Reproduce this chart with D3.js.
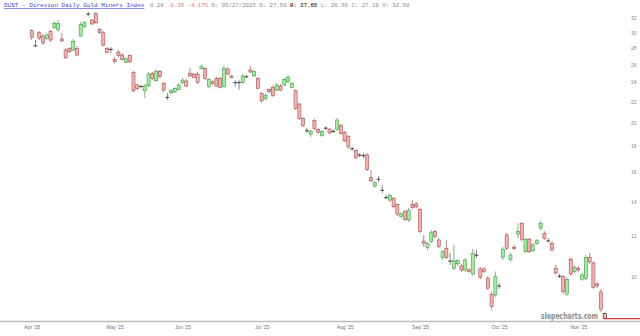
<!DOCTYPE html>
<html>
<head>
<meta charset="utf-8">
<script src="https://cdn.jsdelivr.net/npm/d3@7"></script>
<style>
body { margin: 0; background: #fff; }
svg { display: block; }
</style>
</head>
<body>
<script>
// DUST daily candles, Apr - Nov 2025
let opens = [30.27,28.30,29.99,29.56,29.25,30.18,30.74,30.45,29.16,27.75,27.96,27.75,27.96,29.56,30.83,32.65,31.76,32.73,30.45,29.99,
  27.96,27.85,26.61,27.50,27.13,26.25,27.05,25.10,23.71,23.56,23.10,23.63,24.99,24.17,25.17,23.89,22.44,22.89,22.99,23.24,
  23.96,24.13,24.99,24.91,24.91,25.55,25.55,23.53,24.05,24.40,24.43,23.53,25.47,24.69,23.97,23.98,23.96,24.62,25.36,24.69,
  24.43,22.83,22.28,23.24,23.46,23.17,23.60,23.71,24.05,23.46,23.10,21.76,20.40,19.31,19.01,20.20,19.41,18.89,19.54,19.44,
  19.25,19.41,19.78,19.14,18.79,17.81,17.66,17.31,17.27,17.30,15.61,15.05,15.53,14.78,14.30,14.12,14.23,13.85,13.11,13.41,
  12.91,13.85,13.88,13.54,11.74,11.42,11.71,12.25,11.80,10.92,11.37,10.75,10.39,10.60,10.50,10.31,10.31,10.13,11.04,10.36,
  10.36,9.93,9.23,9.21,9.61,10.92,12.07,10.82,11.42,12.12,12.72,11.19,11.84,11.24,11.62,12.45,12.15,11.77,11.62,10.39,
  10.04,10.00,9.25,10.81,10.23,10.39,9.89,9.93,10.90,10.64,9.68,9.34,8.48];
let highs = [30.50,29.03,30.23,29.82,29.95,30.36,31.60,31.76,29.99,28.00,28.13,29.16,28.25,31.48,31.62,32.97,31.90,32.90,30.63,30.23,
  28.13,28.13,26.90,27.75,27.38,26.88,27.25,25.25,23.82,23.75,23.82,25.14,25.14,25.47,25.36,24.03,22.86,23.28,23.49,23.92,
  24.46,24.35,25.55,25.02,25.14,26.00,25.70,24.46,24.24,24.58,24.60,25.81,25.70,24.80,24.24,24.24,24.91,24.80,25.81,25.36,
  24.58,22.96,22.77,23.35,23.71,23.92,23.82,24.46,24.80,24.03,23.24,21.86,20.50,19.53,19.35,20.34,19.53,19.35,19.71,19.53,
  19.44,20.43,19.89,19.27,18.93,17.94,17.77,17.45,17.45,17.45,16.16,15.38,15.74,15.11,14.45,14.51,14.32,13.91,13.38,13.50,
  13.62,14.12,14.00,13.62,12.07,11.69,12.34,12.34,11.90,11.28,11.80,11.13,11.54,10.83,10.59,10.88,10.40,11.33,11.28,10.45,
  10.45,10.04,9.34,10.24,9.73,11.44,12.18,11.13,11.54,12.74,12.80,11.90,11.90,11.65,11.85,12.86,12.28,11.90,11.74,10.55,
  10.13,10.08,9.98,10.92,10.55,10.50,10.17,11.03,11.13,10.72,9.77,9.46,8.52];
let lows = [29.03,28.13,29.03,28.38,29.03,28.77,30.50,30.09,28.77,26.65,27.38,27.63,27.00,29.43,30.63,32.34,31.06,31.20,29.82,28.25,
  27.38,27.34,26.12,26.88,26.47,26.17,26.17,22.96,23.17,23.35,22.35,23.49,24.24,24.03,24.43,22.96,22.15,22.77,22.86,23.17,
  23.82,23.49,24.58,24.43,23.82,25.40,24.24,23.35,23.71,23.49,23.35,23.35,24.80,24.43,23.53,23.24,23.82,24.46,25.02,24.58,
  23.28,21.86,22.15,22.86,22.46,23.06,23.06,23.60,23.92,23.35,21.18,20.25,19.62,19.10,18.76,19.35,19.01,18.76,19.35,19.01,
  19.10,19.27,18.93,18.33,17.77,17.61,16.98,17.14,17.06,16.08,15.31,14.91,15.31,14.57,14.18,14.00,13.64,13.15,13.00,12.85,
  12.80,13.56,13.60,12.16,11.44,11.28,11.63,11.90,11.38,10.78,10.83,10.55,10.31,10.50,10.22,10.22,10.17,10.04,10.88,9.89,
  10.17,9.42,8.61,9.13,9.47,10.78,11.28,10.69,11.28,11.90,11.74,11.13,11.13,11.19,11.54,12.34,11.80,11.65,11.19,10.10,
  9.94,9.25,9.17,10.04,10.17,10.22,9.81,9.85,10.59,9.47,9.51,8.53,8.25];
let closes = [29.39,28.28,29.29,28.64,29.69,29.03,31.29,31.29,28.90,26.80,27.54,28.81,27.13,31.15,31.38,32.62,31.20,31.38,30.05,28.34,
  27.46,27.83,26.32,27.10,26.61,26.68,26.32,23.10,23.35,23.54,23.60,24.91,24.43,25.17,24.61,23.17,22.42,23.10,23.35,23.71,
  24.24,23.60,24.69,24.54,24.00,25.74,24.43,24.32,23.89,23.60,23.46,25.55,24.91,24.54,23.95,23.96,24.69,24.60,25.14,25.17,
  23.35,22.08,22.63,23.03,22.63,23.71,23.17,24.32,24.54,23.89,21.34,20.40,19.77,19.29,19.27,19.50,19.18,19.22,19.52,19.10,
  19.23,20.25,19.07,18.44,17.94,17.79,17.12,17.29,17.25,16.20,15.40,15.27,15.51,14.76,14.28,14.43,13.70,13.26,13.27,12.95,
  13.50,13.66,13.70,12.25,11.61,11.63,12.19,11.98,11.45,11.19,10.90,10.73,10.74,10.75,10.31,10.78,10.23,11.11,11.02,9.98,
  10.23,9.50,8.74,10.00,9.59,11.32,11.37,11.03,11.36,12.25,11.84,11.84,11.19,11.54,11.76,12.72,11.89,11.75,11.28,10.17,
  10.02,9.35,9.88,10.13,10.44,10.31,10.08,10.90,10.69,9.54,9.60,8.64,8.28];

let monthLabels = ["Apr '25", "May '25", "Jun '25", "Jul '25", "Aug '25", "Sep '25", "Oct '25", "Nov '25"];
let monthIdx = [0, 22, 40, 61, 83, 103, 124, 145];
let priceTicks = [10, 12, 14, 16, 18, 20, 22, 24, 26, 28, 30, 32];

let title = "DUST - Direxion Daily Gold Miners Index";
let quoteParts = [
  {t: "8.28", c: "#8a8a8a", b: false},
  {t: "-0.36", c: "#f07070", b: false},
  {t: "-4.17%", c: "#f07070", b: false},
  {t: "D: 05/27/2025", c: "#8a8a8a", b: false},
  {t: "O: 27.58", c: "#8a8a8a", b: false},
  {t: "H: 27.65", c: "#444", b: true},
  {t: "L: 26.66", c: "#8a8a8a", b: false},
  {t: "C: 27.19", c: "#8a8a8a", b: false},
  {t: "V: 32.60", c: "#8a8a8a", b: false}
];

let width = 640;
let height = 336;

let red_fill = "#f3b2b2";
let red_line = "#a05252";
let green_fill = "#a2eca2";
let green_line = "#48984a";
let doji_color = "#222";

let svg = d3.select("body")
            .append("svg")
            .attr("width", width)
            .attr("height", height)
            .style("font-family", "'Liberation Sans', sans-serif");

svg.append("rect").attr("width", width).attr("height", height).attr("fill", "#fff");

let candles = opens.map((o, i) => ({i: i, o: o, h: highs[i], l: lows[i], c: closes[i]}));

let x = d3.scaleLinear().domain([0, candles.length - 1]).range([31.7, 604.7]);
let y = d3.scaleLog().domain([8, 34]).range([326.3, 4.9]);

svg.append("clipPath").attr("id", "plotclip")
   .append("rect").attr("x", 0).attr("y", 0).attr("width", width).attr("height", 320);

let plot = svg.append("g").attr("clip-path", "url(#plotclip)");

let bodyW = 3.1;

let g = plot.selectAll("g.candle")
            .data(candles)
            .enter()
            .append("g")
            .attr("class", "candle");

let isDoji = d => Math.abs(d.o - d.c) / d.o < 0.004;
let lineColor = d => isDoji(d) ? "#555" : (d.c >= d.o ? green_line : red_line);

g.append("line")
 .attr("x1", d => x(d.i)).attr("x2", d => x(d.i))
 .attr("y1", d => y(d.h)).attr("y2", d => y(d.l))
 .attr("stroke", lineColor)
 .attr("stroke-width", 0.7);

g.filter(d => !isDoji(d))
 .append("rect")
 .attr("x", d => x(d.i) - bodyW / 2)
 .attr("y", d => y(Math.max(d.o, d.c)))
 .attr("width", bodyW)
 .attr("height", d => Math.max(0.8, y(Math.min(d.o, d.c)) - y(Math.max(d.o, d.c))))
 .attr("fill", d => d.c >= d.o ? green_fill : red_fill)
 .attr("stroke", d => d.i === candles.length - 1 ? "#222" : lineColor(d))
 .attr("stroke-width", 0.6);

g.filter(d => isDoji(d))
 .append("line")
 .attr("x1", d => x(d.i) - bodyW / 2 - 0.3).attr("x2", d => x(d.i) + bodyW / 2 + 0.3)
 .attr("y1", d => y(d.c)).attr("y2", d => y(d.c))
 .attr("stroke", doji_color)
 .attr("stroke-width", 0.9);

// last price line
let last = candles[candles.length - 1];
svg.append("line")
   .attr("x1", x(last.i)).attr("x2", width)
   .attr("y1", y(last.c)).attr("y2", y(last.c))
   .attr("stroke", "#e03030")
   .attr("stroke-width", 1.2);

// price axis on the right
let yAxis = svg.append("g")
               .attr("transform", "translate(630,0)")
               .call(d3.axisRight(y).tickValues(priceTicks).tickSize(0).tickPadding(1).tickFormat(d3.format("d")));
yAxis.select(".domain").remove();
yAxis.selectAll("text").attr("font-size", 5).attr("fill", "#888").attr("font-family", "'Liberation Sans', sans-serif");

// bottom axis
svg.append("line")
   .attr("x1", 0).attr("x2", width)
   .attr("y1", 321.5).attr("y2", 321.5)
   .attr("stroke", "#bdbdbd")
   .attr("stroke-width", 1.5);

let xAxis = svg.append("g")
               .attr("transform", "translate(0,321)")
               .call(d3.axisBottom(x).tickValues(monthIdx).tickSize(0).tickPadding(4).tickFormat((d, i) => monthLabels[i]));
xAxis.select(".domain").remove();
xAxis.selectAll("text").attr("font-size", 5).attr("fill", "#6a6f8a").attr("font-family", "'Liberation Sans', sans-serif");

// watermark
svg.append("text")
   .attr("x", 541).attr("y", 318.5)
   .attr("font-family", "'DejaVu Sans', sans-serif")
   .attr("font-weight", "bold")
   .attr("font-size", 8.5)
   .attr("textLength", 57)
   .attr("lengthAdjust", "spacingAndGlyphs")
   .attr("fill", "#8c8c8c")
   .text("slopecharts.com");

// header
svg.append("text")
   .attr("x", 4).attr("y", 7)
   .attr("font-family", "'Liberation Mono', monospace")
   .attr("font-size", 6)
   .attr("fill", "#3a48c8")
   .attr("text-decoration", "underline")
   .text(title);

let quote = svg.append("text")
   .attr("x", 150).attr("y", 7)
   .attr("font-family", "'Liberation Mono', monospace")
   .attr("font-size", 5.7)
   .attr("xml:space", "preserve");

quote.selectAll("tspan")
     .data(quoteParts)
     .enter()
     .append("tspan")
     .attr("fill", d => d.c)
     .attr("font-weight", d => d.b ? "bold" : "normal")
     .text((d, i) => (i > 0 ? " " : "") + d.t);
</script>
</body>
</html>
